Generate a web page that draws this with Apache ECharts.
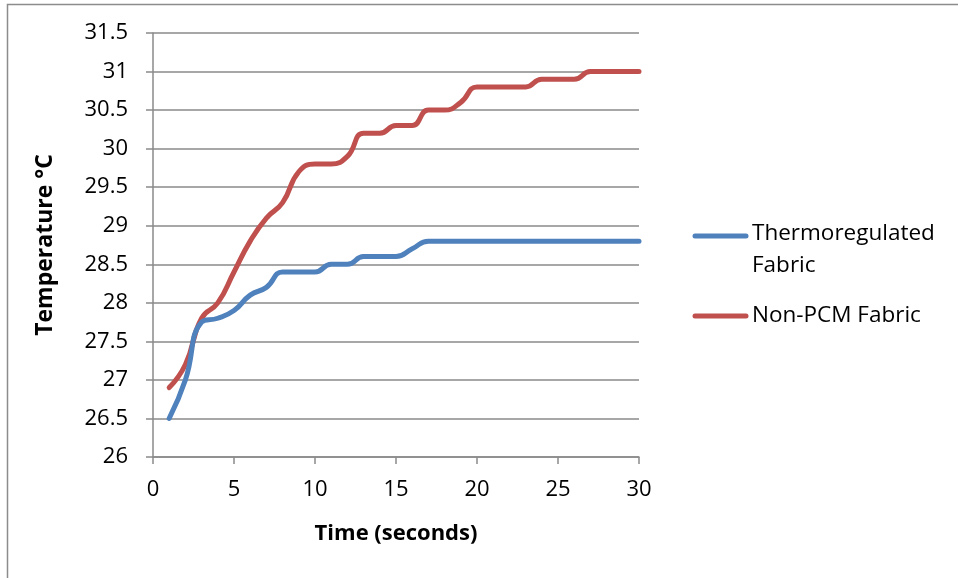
<!DOCTYPE html>
<html>
<head>
<meta charset="utf-8">
<script src="https://cdn.jsdelivr.net/npm/echarts@6/dist/echarts.min.js"></script>
<style>
  html, body { margin: 0; padding: 0; background: #fff; }
  #chart { width: 958px; height: 578px; }
</style>
</head>
<body>
<div id="chart"></div>
<script>
// Time in seconds
const seconds = [1, 2, 3, 4, 5, 6, 7, 8, 9, 10, 11, 12, 13, 14, 15, 16, 17, 18, 19, 20, 21, 22, 23, 24, 25, 26, 27, 28, 29, 30];

// Surface temperature (°C) for each fabric
const thermoregulated = [26.5, 27.0, 27.75, 27.8, 27.9, 28.1, 28.2, 28.4, 28.4, 28.4, 28.5, 28.5, 28.6, 28.6, 28.6, 28.7, 28.8, 28.8, 28.8, 28.8, 28.8, 28.8, 28.8, 28.8, 28.8, 28.8, 28.8, 28.8, 28.8, 28.8];
const nonPcm = [26.9, 27.2, 27.8, 28.0, 28.4, 28.8, 29.1, 29.3, 29.7, 29.8, 29.8, 29.9, 30.2, 30.2, 30.3, 30.3, 30.5, 30.5, 30.6, 30.8, 30.8, 30.8, 30.8, 30.9, 30.9, 30.9, 31.0, 31.0, 31.0, 31.0];

const seriesNames = ['Thermoregulated Fabric', 'Non-PCM Fabric'];
const legendLines = [['Thermoregulated', 'Fabric'], ['Non-PCM Fabric']];
const colors = ['#4F81BD', '#C0504D'];

const xTitle = 'Time (seconds)';
const yTitle = 'Temperature °C';

const font = '"Open Sans", "Liberation Sans", sans-serif';
const gridColor = '#8a8a8a';

const pairs = (ys) => seconds.map((s, i) => [s, ys[i]]);

const chart = echarts.init(document.getElementById('chart'), null, { renderer: 'canvas' });

// Legend drawn as line swatches with wrapped labels
const legendGraphics = [];
const legendRows = [
  { lineY: 236, textY: [235, 267] },
  { lineY: 316, textY: [317] }
];
legendRows.forEach((row, i) => {
  legendGraphics.push({
    type: 'line',
    shape: { x1: 695, y1: row.lineY, x2: 746, y2: row.lineY },
    style: { stroke: colors[i], lineWidth: 5, lineCap: 'round' },
    silent: true
  });
  legendLines[i].forEach((t, k) => {
    legendGraphics.push({
      type: 'text',
      left: 752,
      top: row.textY[k] - 13,
      style: { text: t, font: '22.5px ' + font, fill: '#000', textVerticalAlign: 'top' },
      silent: true
    });
  });
});

chart.setOption({
  animation: false,
  backgroundColor: '#fff',
  grid: { left: 153, right: 319, top: 33, bottom: 121, containLabel: false },
  xAxis: {
    type: 'value',
    min: 0,
    max: 30,
    interval: 5,
    name: xTitle,
    nameLocation: 'middle',
    nameGap: 66,
    nameTextStyle: { fontFamily: font, fontWeight: 'bold', fontSize: 22, color: '#000' },
    axisLine: { show: true, lineStyle: { color: gridColor, width: 1.5 } },
    axisTick: { show: true, length: 7, lineStyle: { color: gridColor, width: 1.5 } },
    axisLabel: { margin: 22, fontFamily: font, fontSize: 22, color: '#000' },
    splitLine: { show: false }
  },
  yAxis: {
    type: 'value',
    min: 26,
    max: 31.5,
    interval: 0.5,
    name: yTitle,
    nameLocation: 'middle',
    nameGap: 96,
    nameRotate: 90,
    nameTextStyle: { fontFamily: font, fontWeight: 'bold', fontSize: 23, color: '#000' },
    axisLine: { show: true, lineStyle: { color: gridColor, width: 1.5 } },
    axisTick: { show: true, length: 7, lineStyle: { color: gridColor, width: 1.5 } },
    axisLabel: { margin: 25, fontFamily: font, fontSize: 22, color: '#000' },
    splitLine: { show: true, lineStyle: { color: gridColor, width: 1.5 } }
  },
  series: [
    {
      name: seriesNames[0],
      type: 'line',
      data: pairs(thermoregulated),
      smooth: 0.5,
      showSymbol: false,
      lineStyle: { color: colors[0], width: 5, cap: 'round', join: 'round' },
      itemStyle: { color: colors[0] },
      z: 3
    },
    {
      name: seriesNames[1],
      type: 'line',
      data: pairs(nonPcm),
      smooth: 0.5,
      showSymbol: false,
      lineStyle: { color: colors[1], width: 5, cap: 'round', join: 'round' },
      itemStyle: { color: colors[1] },
      z: 2
    }
  ],
  graphic: [
    {
      type: 'rect',
      shape: { x: 7.5, y: 4.5, width: 1200, height: 1200 },
      style: { fill: 'none', stroke: '#8c8c8c', lineWidth: 1.5 },
      silent: true,
      z: -1
    }
  ].concat(legendGraphics)
});
</script>
</body>
</html>
